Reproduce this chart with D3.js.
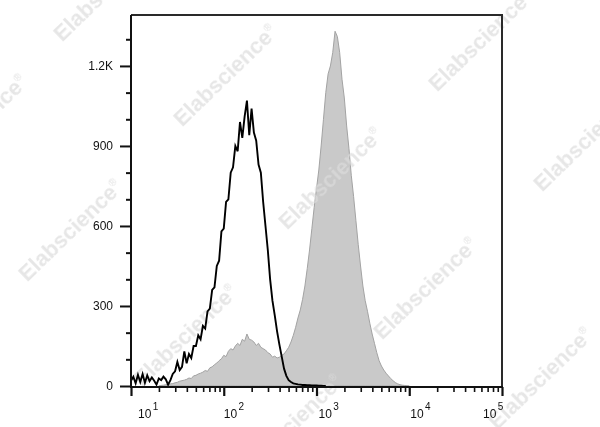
<!DOCTYPE html>
<html><head><meta charset="utf-8">
<script src="https://cdn.jsdelivr.net/npm/d3@7"></script>
<style>body{margin:0;background:#fff}svg{display:block}</style>
</head><body>
<svg id="c" width="600" height="427"></svg>
<script>
// Histogram bins: log10 channel of first bin and bin width (in decades)
const binStepExp = 0.025;
const blackStartExp = 1.0;
const grayStartExp = 1.3;

// Unstained / isotype control (black outline)
const blackCounts = [
  20,35,10,42,15,45,12,40,18,32,20,5,28,22,35,25,5,22,45,55,
  90,60,72,130,85,120,105,150,150,190,175,225,215,280,290,360,370,450,470,580,
  590,690,700,800,820,900,880,990,930,1010,1070,940,1040,950,920,830,800,690,600,510,
  400,320,265,205,155,110,65,38,22,15,10,8,6,5,4,4,3,3,2,2,
  2,1,1,0,0
];

// Stained sample (grey filled)
const grayCounts = [
  0,2,3,5,6,8,9,12,14,18,20,22,25,30,28,38,40,45,48,52,
  58,55,68,72,80,86,95,102,115,110,130,140,135,150,160,152,175,168,195,175,
  172,165,152,160,145,140,135,125,120,108,112,105,108,115,120,132,145,165,190,220,
  255,285,325,375,440,510,590,670,740,810,900,1000,1100,1170,1200,1250,1330,1310,1250,1150,
  1080,975,890,790,710,620,530,450,375,320,280,235,195,160,125,95,75,60,48,38,
  28,20,13,8,5,3,2,1,0
];

const yMajorTicks = [0, 300, 600, 900, 1200];
const yMajorLabels = ["0", "300", "600", "900", "1.2K"];
const yMinorTicks = [100, 200, 400, 500, 700, 800, 1000, 1100, 1300];
const xDecadeExps = [1, 2, 3, 4, 5];
const xMinorMultipliers = [2, 3, 4, 5, 6, 7, 8, 9];
const watermarkText = "Elabscience";

const svg = d3.select("#c");
const L = 131, R = 502, T = 15, B = 387;
const x = d3.scaleLog().domain([10, 1e5]).range([L, R]);
const y = d3.scaleLinear().domain([0, 1391]).range([386, T]);
const font = "'Liberation Sans', Arial, Helvetica, sans-serif";

const blackData = blackCounts.map((c, i) => ({ v: Math.pow(10, blackStartExp + i * binStepExp), c }));
const grayData = grayCounts.map((c, i) => ({ v: Math.pow(10, grayStartExp + i * binStepExp), c }));

// grey filled histogram
svg.append("path")
  .datum(grayData)
  .attr("d", d3.area().x(d => x(d.v)).y0(y(0)).y1(d => y(d.c)))
  .attr("fill", "#c9c9c9")
  .attr("stroke", "#a3a3a3")
  .attr("stroke-width", 1);

// watermarks
const wmPos = [[105,-10],[225,75],[480,40],[-25,125],[330,178],[585,140],[70,230],[425,288],[185,335],[540,378],[290,425]];
const wm = svg.append("g").attr("fill", "#dcdcdc").attr("opacity", 0.7)
  .attr("font-family", font).attr("font-size", 22).attr("font-weight", "bold");
wmPos.forEach(p => {
  const t = wm.append("text").attr("transform", `translate(${p[0]},${p[1]}) rotate(-44)`)
    .attr("text-anchor", "middle").attr("dy", "0.35em");
  t.append("tspan").text(watermarkText);
  t.append("tspan").attr("font-size", 10).attr("dy", "-0.9em").text("®");
});

// black outline histogram
svg.append("path")
  .datum(blackData)
  .attr("d", d3.line().x(d => x(d.v)).y(d => y(d.c)))
  .attr("fill", "none")
  .attr("stroke", "#000")
  .attr("stroke-width", 1.9)
  .attr("stroke-linejoin", "miter");

// frame (top and right)
svg.append("path")
  .attr("d", `M${L},${T}H${R}V${B}`)
  .attr("fill", "none").attr("stroke", "#2a2a2a").attr("stroke-width", 2);

// Y axis
const yMinor = svg.append("g").attr("transform", `translate(${L},0)`)
  .call(d3.axisLeft(y).tickValues(yMinorTicks).tickSize(5).tickFormat(""));
const yMajor = svg.append("g").attr("transform", `translate(${L},0)`)
  .call(d3.axisLeft(y).tickValues(yMajorTicks).tickSize(11).tickPadding(7)
    .tickFormat((d, i) => yMajorLabels[i]));
[yMinor, yMajor].forEach(g => {
  g.select(".domain").remove();
  g.selectAll("line").attr("stroke", "#111").attr("stroke-width", 2);
});
yMajor.selectAll("text").attr("font-family", font).attr("font-size", 12).attr("fill", "#111");

// X axis ticks
const xMinorVals = [];
xDecadeExps.slice(0, -1).forEach(e => xMinorMultipliers.forEach(m => xMinorVals.push(m * Math.pow(10, e))));
const xMajorVals = xDecadeExps.map(e => Math.pow(10, e));
const xMinor = svg.append("g").attr("transform", `translate(0,${B})`)
  .call(d3.axisBottom(x).tickValues(xMinorVals).tickSize(5).tickFormat(""));
const xMajor = svg.append("g").attr("transform", `translate(0,${B})`)
  .call(d3.axisBottom(x).tickValues(xMajorVals).tickSize(9).tickFormat(""));
[xMinor, xMajor].forEach(g => {
  g.select(".domain").remove();
  g.selectAll("line").attr("stroke", "#111").attr("stroke-width", 1.6);
});
xMajor.selectAll("line").attr("stroke-width", 2.2);

// axis lines
svg.append("path").attr("d", `M${L},${T}V${B}H${R + 1}`)
  .attr("fill", "none").attr("stroke", "#111").attr("stroke-width", 2);

// X labels 10^n
const labelOffsets = [7, 0, 2, 1, -19];
xDecadeExps.forEach((e, i) => {
  const t = svg.append("text")
    .attr("x", x(Math.pow(10, e)) + labelOffsets[i])
    .attr("y", 418)
    .attr("font-family", font).attr("font-size", 12).attr("fill", "#111");
  t.append("tspan").text("10");
  t.append("tspan").attr("font-size", 10).attr("dx", 1.5).attr("dy", -8).text(String(e));
});
</script>
</body></html>
